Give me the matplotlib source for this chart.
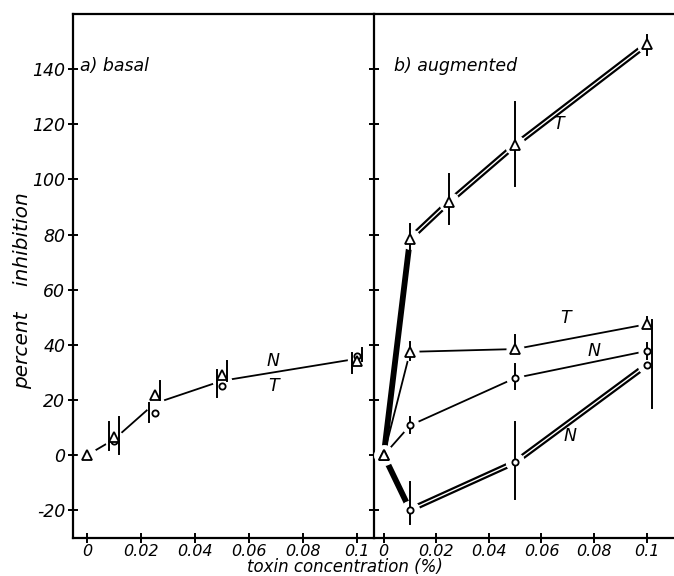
import numpy as np
import matplotlib
matplotlib.use("Agg")
import matplotlib.pyplot as plt

# toxin concentrations (%)
x_basal = [0, 0.01, 0.025, 0.05, 0.1]
x_aug_thick_t = [0, 0.01, 0.025, 0.05, 0.1]
x_aug = [0, 0.01, 0.05, 0.1]

# a) basal
basal_n = [0, 5, 15.5, 25, 36]
basal_n_lo = [0, 2, 12, 21, 30]
basal_n_hi = [0, 12, 19, 31, 37]
basal_t = [0, 6.5, 22, 29, 34]
basal_t_lo = [0, 0.5, 20, 27, 34]
basal_t_hi = [0, 14, 27, 34, 39]

# b) augmented
aug_t_thick = [0, 78.5, 92, 112.5, 149]
aug_t_thick_lo = [0, 74, 84, 97.5, 145]
aug_t_thick_hi = [0, 84, 102, 128, 152.5]
aug_t_thin = [0, 37.5, 38.5, 47.5]
aug_t_thin_lo = [0, 34.5, 37, 47]
aug_t_thin_hi = [0, 41, 43.5, 50]
aug_n_thin = [0, 10.8, 28, 37.8]
aug_n_thin_lo = [0, 8, 24, 35]
aug_n_thin_hi = [0, 14, 33, 40.6]
aug_n_thick = [0, -19.8, -2.5, 32.7]
aug_n_thick_lo = [0, -24.8, -16, 17]
aug_n_thick_hi = [0, -9.7, 12, 49]

x_ticks = [0, 0.02, 0.04, 0.06, 0.08, 0.1]
x_ticklabels = ["0", "0.02", "0.04", "0.06", "0.08", "0.1"]
y_ticks = [-20, 0, 20, 40, 60, 80, 100, 120, 140]

FONT = dict(fontstyle="italic", family="DejaVu Sans")
FS = 12.5


def halo(ax, x, y, marker, size):
    ax.plot(x, y, ls="none", marker=marker, ms=size, mfc="white", mec="white", zorder=3)


def markers(ax, x, y, marker, size):
    ax.plot(x, y, ls="none", marker=marker, ms=size, mfc="white", mec="black", mew=1.3, zorder=5)


def bars(ax, x, lo, hi, dx=0.0):
    for xi, l, h in zip(x, lo, hi):
        if h - l > 0:
            ax.plot([xi + dx, xi + dx], [l, h], color="black", lw=1.4, zorder=4)


def double_line(ax, x, y):
    ax.plot(x, y, color="black", lw=4.2, solid_capstyle="butt", zorder=2)
    ax.plot(x, y, color="white", lw=1.0, solid_capstyle="butt", zorder=2.1)


def style_axes(ax, show_labels):
    ax.set_xlim(-0.0052, 0.1063)
    ax.set_ylim(-30, 160)
    ax.set_xticks(x_ticks)
    ax.set_xticklabels(x_ticklabels, fontsize=11.5, **FONT)
    ax.set_yticks(y_ticks)
    if show_labels:
        ax.set_yticklabels([str(v) for v in y_ticks], fontsize=FS, **FONT)
    else:
        ax.set_yticklabels([])
    ax.tick_params(direction="inout", length=7, width=1.4, pad=2)
    ax.tick_params(axis="x", pad=0.5)
    ax.spines["right"].set_visible(False)
    for s in ["left", "top", "bottom"]:
        ax.spines[s].set_linewidth(1.6)


fig = plt.figure(figsize=(6.74, 5.76), dpi=100)
ax1 = fig.add_axes([0.1083, 0.066, 0.4466, 0.9097])
ax2 = fig.add_axes([0.5549, 0.066, 0.4451, 0.9097])

# ---- a) basal ----
style_axes(ax1, True)
basal_mean = (np.array(basal_n) + np.array(basal_t)) / 2
ax1.plot(x_basal, basal_mean, color="black", lw=1.3, zorder=2)
halo(ax1, x_basal, basal_mean, "o", 13)
bars(ax1, x_basal[1:], basal_n_lo[1:], basal_n_hi[1:], dx=-0.002)
bars(ax1, x_basal[1:], basal_t_lo[1:], basal_t_hi[1:], dx=0.002)
markers(ax1, x_basal[1:], basal_n[1:], "o", 4.5)
markers(ax1, x_basal, basal_t, "^", 6.5)
ax1.text(0.069, 34, "N", fontsize=FS, ha="center", va="center", **FONT)
ax1.text(0.069, 25, "T", fontsize=FS, ha="center", va="center", **FONT)
ax1.text(-0.0025, 141, "a) basal", fontsize=FS, ha="left", va="center", **FONT)
fig.text(0.033, 0.495, "percent    inhibition", fontsize=14.5, rotation=90,
         ha="center", va="center", **FONT)

# ---- b) augmented ----
style_axes(ax2, False)
ax2.set_xlim(-0.0037, 0.1104)
# thick T: solid first segment, double afterwards
ax2.plot(x_aug_thick_t[:2], aug_t_thick[:2], color="black", lw=4.2, zorder=2)
double_line(ax2, x_aug_thick_t[1:], aug_t_thick[1:])
# thick N
ax2.plot(x_aug[:2], aug_n_thick[:2], color="black", lw=4.2, zorder=2)
double_line(ax2, x_aug[1:], aug_n_thick[1:])
# thin lines
ax2.plot(x_aug, aug_t_thin, color="black", lw=1.3, zorder=2)
ax2.plot(x_aug, aug_n_thin, color="black", lw=1.3, zorder=2)

halo(ax2, x_aug_thick_t, aug_t_thick, "o", 14)
halo(ax2, x_aug, aug_t_thin, "o", 12)
halo(ax2, x_aug, aug_n_thin, "o", 12)
halo(ax2, x_aug, aug_n_thick, "o", 13)

bars(ax2, x_aug_thick_t, aug_t_thick_lo, aug_t_thick_hi)
bars(ax2, x_aug, aug_t_thin_lo, aug_t_thin_hi)
bars(ax2, x_aug, aug_n_thin_lo, aug_n_thin_hi)
bars(ax2, x_aug[:-1], aug_n_thick_lo[:-1], aug_n_thick_hi[:-1])
bars(ax2, x_aug[-1:], aug_n_thick_lo[-1:], aug_n_thick_hi[-1:], dx=0.0022)

markers(ax2, x_aug_thick_t, aug_t_thick, "^", 6.5)
markers(ax2, x_aug, aug_t_thin, "^", 6.5)
markers(ax2, x_aug[1:], aug_n_thin[1:], "o", 4.5)
markers(ax2, x_aug[1:], aug_n_thick[1:], "o", 4.5)

ax2.text(0.0664, 120, "T", fontsize=FS, ha="center", va="center", **FONT)
ax2.text(0.069, 49.6, "T", fontsize=FS, ha="center", va="center", **FONT)
ax2.text(0.080, 37.8, "N", fontsize=FS, ha="center", va="center", **FONT)
ax2.text(0.071, 6.8, "N", fontsize=FS, ha="center", va="center", **FONT)
ax2.text(0.004, 141, "b) augmented", fontsize=FS, ha="left", va="center", **FONT)

fig.text(0.512, 0.0, "toxin concentration (%)", fontsize=12, ha="center", va="bottom", **FONT)

fig.savefig("out.png", dpi=100)
